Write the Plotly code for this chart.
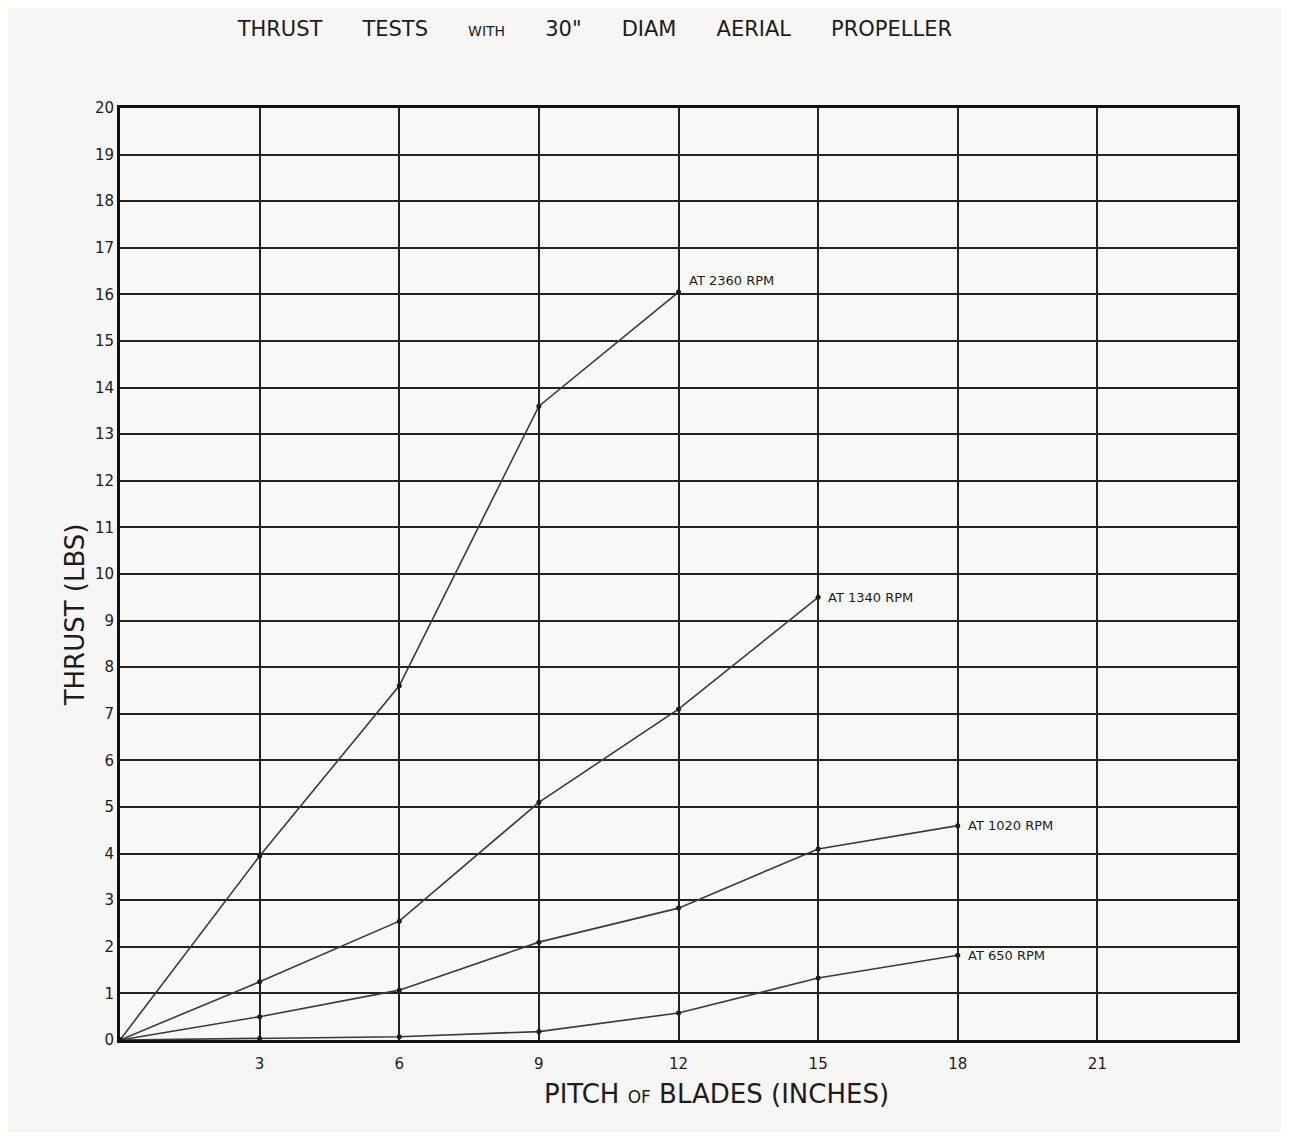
import plotly.graph_objects as go

# ---- data ----
pitch = [0, 3, 6, 9, 12, 15, 18]          # inches
thrust_2360 = [0, 3.95, 7.6, 13.6, 16.05]
thrust_1340 = [0, 1.25, 2.55, 5.1, 7.1, 9.5]
thrust_1020 = [0, 0.5, 1.07, 2.1, 2.83, 4.1, 4.6]
thrust_650 = [0, 0.03, 0.07, 0.18, 0.58, 1.33, 1.82]

series_labels = ["AT 2360 RPM", "AT 1340 RPM", "AT 1020 RPM", "AT 650 RPM"]
series_values = [thrust_2360, thrust_1340, thrust_1020, thrust_650]

x_tick_vals = [3, 6, 9, 12, 15, 18, 21]
x_tick_text = ["3", "6", "9", "12", "15", "18", "21"]
y_tick_vals = list(range(0, 21))
y_tick_text = [str(v) for v in y_tick_vals]

GAP = "&nbsp;" * 6
title_words = ["THRUST", "TESTS", '<span style="font-size:14px">WITH</span>', '30"', "DIAM", "AERIAL", "PROPELLER"]
title_text = GAP.join(title_words)
x_title = 'PITCH <span style="font-size:17px">OF</span> BLADES (INCHES)'
y_title = "THRUST (LBS)"

INK = "#1c1c1c"
FONT = "DejaVu Sans"
label_yshift = [12, 0, 0, 0]   # styling only: vertical nudge of each end label

fig = go.Figure()
for label, vals, ys in zip(series_labels, series_values, label_yshift):
    xs = pitch[:len(vals)]
    fig.add_trace(go.Scatter(
        x=xs, y=vals, mode="lines+markers", name=label,
        line=dict(color="#3a3a3a", width=1.6),
        marker=dict(color=INK, size=5),
        showlegend=False,
    ))
    fig.add_annotation(
        x=xs[-1], y=vals[-1], text=label, showarrow=False,
        xanchor="left", yanchor="middle", xshift=8, yshift=ys,
        font=dict(family=FONT, size=13, color=INK),
    )

# axis titles placed as annotations (offset from the plot centre as in the original)
fig.add_annotation(xref="paper", yref="paper", x=0.534, y=-0.040, text=x_title,
                   showarrow=False, xanchor="center", yanchor="top",
                   font=dict(family=FONT, size=26, color=INK))
fig.add_annotation(xref="paper", yref="paper", x=-0.040, y=0.456, text=y_title,
                   showarrow=False, xanchor="center", yanchor="middle", textangle=-90,
                   font=dict(family=FONT, size=26, color=INK))

fig.update_layout(
    width=1273, height=1124,
    margin=dict(l=112, r=44, t=100, b=92),
    paper_bgcolor="#f6f6f4", plot_bgcolor="#f8f8f6",
    title=dict(text=title_text, x=0.461, xanchor="center", y=0.982, yanchor="middle",
               font=dict(family=FONT, size=21, color=INK)),
    font=dict(family=FONT, color=INK),
)
fig.update_xaxes(
    range=[0, 24], tickvals=x_tick_vals, ticktext=x_tick_text,
    showgrid=True, gridcolor="#222222", gridwidth=2,
    showline=True, linecolor="#111111", linewidth=3, mirror=True,
    zeroline=False, ticks="", ticklabelstandoff=8,
    tickfont=dict(family=FONT, size=15, color=INK),
)
fig.update_yaxes(
    range=[0, 20], tickvals=y_tick_vals, ticktext=y_tick_text,
    showgrid=True, gridcolor="#222222", gridwidth=2,
    showline=True, linecolor="#111111", linewidth=3, mirror=True,
    zeroline=False, ticks="", tickfont=dict(family=FONT, size=15, color=INK),
)

fig.write_html("out.html")
